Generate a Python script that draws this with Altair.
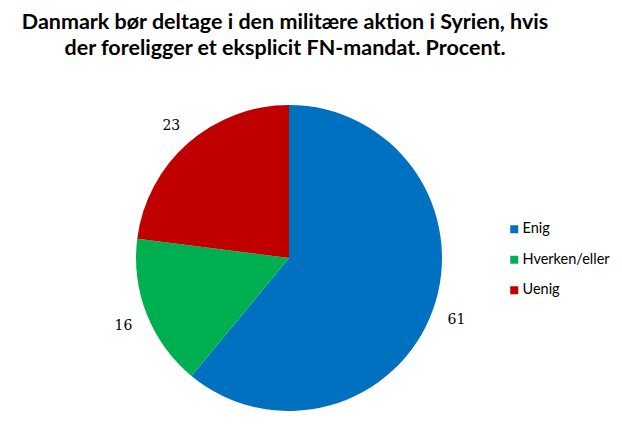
import altair as alt
import pandas as pd

categories = ["Enig", "Hverken/eller", "Uenig"]
values = [61, 16, 23]
colors = ["#0070C0", "#00B050", "#C00000"]
title_lines = ["Danmark bør deltage i den militære aktion i Syrien, hvis",
               "der foreligger et eksplicit FN-mandat.  Procent."]

df = pd.DataFrame({"kategori": categories, "procent": values, "orden": list(range(len(categories)))})
tdf = pd.DataFrame({"linje": title_lines, "nr": list(range(len(title_lines)))})

CX, CY = 281, 250

base = alt.Chart(df).encode(
    theta=alt.Theta("procent:Q", stack=True),
    order=alt.Order("orden:Q"),
)

pie = base.mark_arc(radius=153, x=CX, y=CY).encode(
    color=alt.Color(
        "kategori:N",
        scale=alt.Scale(domain=categories, range=colors),
        legend=alt.Legend(
            title=None,
            orient="none",
            legendX=499,
            legendY=214,
            symbolType="square",
            symbolSize=64,
            symbolStrokeWidth=0,
            labelFont="Lato",
            labelFontSize=14.5,
            labelColor="#000000",
            labelOffset=1,
            labelLimit=200,
            rowPadding=15.5,
        ),
    )
)

labels = base.mark_text(radius=178, x=CX, y=CY + 2, font="DejaVu Serif", fontSize=14, color="#000000").encode(
    text=alt.Text("procent:Q")
)

title = alt.Chart(tdf).mark_text(font="Lato", fontSize=21.5, fontWeight="bold", color="#000000",
                                  baseline="alphabetic", align="center").encode(
    x=alt.value(277),
    y=alt.Y("nr:Q", scale=alt.Scale(domain=[0, 1], range=[21, 47]), axis=None),
    text="linje:N",
)

chart = alt.layer(pie, labels, title).properties(
    width=606, height=428, padding=0, autosize=alt.AutoSizeParams(type="none")
).configure(background="white", view=alt.ViewConfig(stroke=None))

chart.save("out.html", embed_options={"renderer": "svg", "actions": False})
